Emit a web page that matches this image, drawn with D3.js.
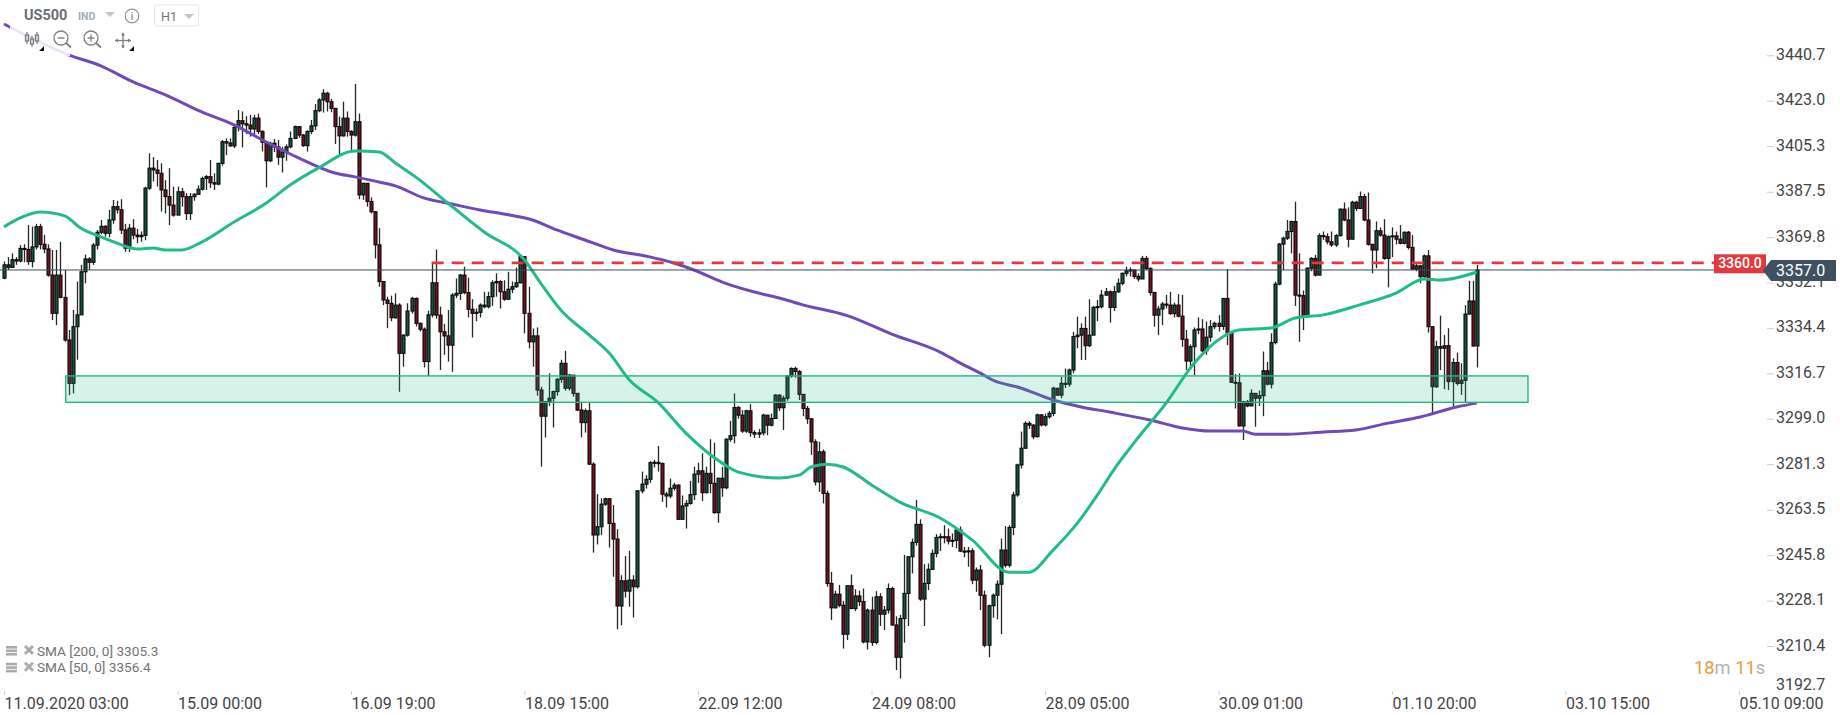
<!DOCTYPE html>
<html>
<head>
<meta charset="utf-8">
<style>
html,body{margin:0;padding:0;background:#fff;}
svg{display:block;font-family:Roboto,sans-serif;}
</style>
<script src="https://cdn.jsdelivr.net/npm/d3@7/dist/d3.min.js"></script>
</head>
<body>
<svg id="chart" width="1840" height="715"></svg>
<script>
const firstOpen = 3353.8;
const closes = [
3359,3358,3361,3360.5,3365.4,3365,3360.3,3366,3373.9,3367,
3365.2,3355,3340.1,3355,3346.3,3329.7,3312.8,3334.9,3339.5,3356.3,
3361.3,3360,3366.7,3371.7,3374,3371.3,3376.5,3381.7,3380.5,3372.6,
3365.5,3373.3,3370.6,3370,3370.5,3388.9,3396.7,3396,3394.7,3388.2,
3385.6,3382.3,3378.4,3387.5,3385.6,3379,3385.6,3386.5,3388.5,3392.7,
3393.4,3391,3390.5,3398.6,3407,3406.5,3405.4,3412.6,3415.2,3414,
3413.5,3412,3416.2,3411,3406.8,3399.6,3406.4,3405,3401,3403,
3405,3408.3,3412.9,3409.6,3405.5,3411,3413.2,3419.1,3423.3,3425.9,
3422.6,3420,3412.9,3409.3,3416.2,3411,3409.6,3414.8,3386.3,3390.8,
3383.7,3379.7,3366.8,3352.5,3345.3,3344,3338.4,3343.3,3324.5,3331.6,
3341,3345.9,3336.2,3333.9,3321.3,3339.5,3352,3339.4,3332.9,3331.3,
3327.7,3347.2,3347.9,3355,3348.2,3341.7,3340.1,3340.5,3343.3,3342.7,
3346.6,3352,3352.5,3348.5,3345.6,3349.5,3350.5,3352,3362.2,3340.1,
3329,3331.3,3310.2,3300,3305.6,3307,3309.6,3314.4,3320.6,3310.9,
3316,3308.9,3302.4,3297.5,3302.1,3281.3,3253.7,3256.9,3265.7,3267.8,
3258.2,3252.1,3226,3235.8,3231.8,3236.1,3233.5,3270.9,3273.5,3275.4,
3281.9,3282,3281.5,3269.6,3268.9,3271.9,3273.1,3259.8,3265,3266,
3269.4,3277.4,3278.7,3270.2,3277.7,3273.8,3262.4,3275.8,3272.1,3291,
3292.4,3303.4,3300.4,3294.2,3302.1,3293.6,3293,3293.5,3300.4,3296.5,
3299.1,3308.2,3303.3,3307,3315.7,3318.6,3317.4,3308.5,3303,3299,
3290,3274.4,3286.1,3269.9,3234.8,3225.3,3230.6,3226.3,3215,3233.9,
3225,3229.9,3227.7,3212,3224.4,3211.8,3229.6,3222.8,3224.4,3232.8,
3218.6,3206,3221.1,3230.9,3245.2,3250.8,3257.8,3228.7,3234.8,3240.3,
3246.5,3252.7,3253,3253,3251.3,3251.6,3255.6,3247.4,3247.2,3247.5,
3236.1,3240,3230.2,3210.7,3226.1,3230.2,3234.5,3247.8,3241.9,3256.6,
3269.3,3281,3287.5,3297.2,3296.5,3292,3300.5,3296.6,3299.8,3301.1,
3310.9,3308.2,3312.8,3312.5,3318,3331,3331.6,3334.2,3327.5,3331.6,
3342.4,3342.7,3347.2,3348.5,3342.4,3348.5,3351.8,3355.7,3356.7,3357,
3354.5,3353.5,3361.5,3357.6,3348.2,3339.4,3341.8,3343.7,
3343.3,3340,3343.3,3339,3330,3321.5,3327.1,3333.6,3334,3325.5,
3330.8,3334.9,3336.2,3335,3345.9,3332.3,3313.2,3313,3296.2,3305.6,
3304,3308.9,3307,3308,3317.7,3312.5,3328.7,3351.5,3367.1,3369.4,3372,
3375.9,3347.2,3347,3339,3357.7,3361.5,3355,3370.4,3370,3368,
3366.8,3370.4,3380.7,3376.5,3369,3383.4,3381,3385.6,3376.5,3367,
3364.8,3372.3,3370.6,3361.5,3370,3370.3,3369,3367.4,3371.7,3365.8,3357.3,
3358.6,3354.4,3362.5,3334.9,3311.5,3327.1,3326.5,3327.5,3313.5,3320.9,
3312.8,3314,3339.8,3344.9,3327.4,3357];
const highs = [
3360.3,3362,3363.5,3362,3366.7,3367,3374.5,3373.9,3375,3375,
3370.7,3367,3364.8,3364.8,3368,3357,3333.6,3341.4,3352.5,3359,
3363,3362,3367.5,3372.6,3376.5,3374.5,3380.4,3384.3,3384,3384.6,
3375,3375,3376.8,3373,3372,3389.5,3402.5,3401,3399.9,3398.6,
3392,3396.7,3389.5,3389.5,3389,3387,3387,3387,3390,3393.4,
3394,3399.9,3394.7,3398.6,3407.7,3408.3,3408.3,3413.5,3419.4,3418.8,
3417,3417.5,3417.5,3418,3411.5,3407,3407,3408,3407.7,3405,
3406,3411,3413.3,3413,3410,3411.5,3415.5,3421.7,3424,3427.5,
3426.5,3423.7,3420,3416.8,3422.6,3418.8,3411.5,3429.5,3418,3391,
3385.6,3385.3,3380,3373.3,3352.5,3346.6,3347,3347.9,3344,3331.9,
3344,3346.5,3346.3,3336.5,3334.6,3341.1,3360,3365,3342.7,3336,
3341.4,3348,3353.7,3355.5,3358.3,3354,3345.6,3342,3344,3348.5,
3348.5,3353,3355.7,3353,3353,3356.3,3352.5,3358,3362.8,3362.2,
3350.5,3334.2,3334.6,3311.5,3306,3316.7,3310,3314.8,3322,3325.5,
3316.5,3316,3309,3305.6,3303,3305.3,3282,3269.6,3268,3268.2,
3268,3265.4,3255.9,3238,3245.5,3247.5,3238,3271,3278.4,3277,
3282.5,3283,3288.4,3282,3270.5,3275.7,3274,3273.5,3269.1,3267.3,
3274.8,3280.3,3281.9,3285.5,3280.3,3291,3289.7,3276,3280.3,3291.4,
3298.2,3308.9,3304,3302.4,3302.5,3304.7,3294.5,3295,3301,3299.8,
3301,3308.6,3308.5,3308,3316,3319,3319.3,3318,3307,3304,
3299,3291,3290,3287,3271,3239.3,3232,3234.2,3228,3233.9,
3238.3,3232.5,3232,3232.8,3225,3229.6,3231.8,3231,3226,3234.8,
3233.5,3222,3222.5,3245.9,3245.2,3252.3,3267.3,3259.8,3242.3,3242.6,
3248,3254,3254.3,3257.5,3256.2,3254.3,3256.6,3257,3249,3249,
3248.5,3241,3242,3232,3226.5,3230.9,3236,3252.3,3257.2,3257.5,
3270.5,3281.5,3294,3298,3298,3297,3301,3300.7,3301,3302,
3311.5,3311,3315.4,3318.6,3318.6,3332.9,3338.8,3336.2,3338.8,3345.6,
3343,3345.3,3349.2,3350,3349,3350.8,3353.7,3356,3358.3,3358,
3356,3355.7,3362.5,3362.5,3358,3348.5,3343,3344.5,
3347.3,3348.5,3344.3,3347.6,3347.3,3333.6,3328,3334.6,3338.5,3337.8,
3336.9,3337.5,3336.9,3339.4,3346,3357.3,3333,3316.4,3316.7,3306,
3306.3,3310.5,3309,3310,3325.2,3321.2,3332.3,3352.5,3367.5,3370,3376.5,
3376.2,3383.6,3363.5,3349,3358,3362,3362.9,3371.3,3372,3371.3,
3372,3371,3381,3383.3,3381.4,3384,3384,3387.6,3386.6,3387.2,
3367.2,3375.9,3373.6,3376.8,3370.5,3373.6,3372,3374.5,3372,3372.2,3370.6,
3359.5,3359,3363,3364.8,3335,3329.4,3339.2,3331.6,3334.3,3322.6,
3324.8,3320.6,3343.3,3352.8,3352.8,3359];
const lows = [
3353.4,3357,3358,3359,3360,3360,3359,3358,3365,3365,
3363.5,3354.4,3337.5,3335.5,3346,3329,3308.2,3308.9,3322,3348,
3351.8,3357,3359,3365,3371,3370,3369.7,3375,3379,3371,
3364.1,3364,3369,3367.5,3368,3368.6,3388.2,3391.5,3389.5,3379.8,
3379,3374.5,3377.8,3381,3381.7,3376.5,3376.5,3384,3386.5,3388,
3388.2,3389,3388.2,3390,3397.7,3401.8,3405,3404.5,3411,3404.8,
3410,3409,3410,3410,3403.2,3389.2,3399,3403,3398,3395,
3399.6,3404.4,3408,3408.5,3405,3403.2,3410,3411.6,3418.5,3418.4,
3418.8,3418.5,3406.1,3401.8,3409,3409,3403.8,3409,3384.6,3384.3,
3381.7,3379,3361.5,3350.5,3343.3,3334.3,3337,3338,3309.5,3319.3,
3331,3340,3335,3333,3319,3315.7,3338.5,3338,3318,3323.9,
3321.3,3317.3,3346,3345.3,3347.5,3338.5,3330.7,3337,3338.5,3342,
3342,3343,3346.6,3342,3345,3347,3348,3350,3351.8,3332.3,
3326.4,3319.3,3308,3280.3,3291.7,3304,3295.6,3308,3313,3310,
3310,3307.6,3302,3291.7,3293.6,3281,3246.8,3250,3253.6,3265,
3248.8,3237.4,3216.9,3218.5,3229.3,3225.7,3221.5,3232.8,3269.9,3271.8,
3274,3280,3278.4,3266.6,3264.4,3268,3271,3259.5,3259.8,3256.2,
3265.5,3267.3,3274,3266.9,3269.9,3270,3262,3258.5,3268.6,3271.5,
3290,3289.4,3299,3293.5,3293.5,3292,3291.5,3291.5,3292.5,3292.6,
3296,3299,3302,3294.6,3306,3315,3315,3306.3,3300,3297,
3284.9,3273,3270.5,3266,3233.5,3220.5,3225,3225.5,3209.4,3212.7,
3224.8,3224,3226,3211.4,3209,3210.4,3211,3218.2,3216.6,3223,
3218.2,3201,3197.7,3211.7,3218.2,3238.7,3249.5,3228,3218.2,3232.2,
3240,3245,3247.4,3250.4,3250,3249,3248.5,3247,3245,3241.3,
3234.5,3231.5,3224.4,3209.9,3206,3221.4,3220.8,3215,3241,3241,
3253.6,3268.6,3279.6,3293,3295,3291,3291.7,3296,3296,3299,
3300,3308,3307,3311,3311.5,3316.7,3326.5,3321.9,3321.9,3327,
3337.5,3337,3342,3347,3336.5,3341,3348,3351,3354.5,3354.5,
3353.5,3352.5,3354,3357,3347,3334.9,3331.6,3335.5,
3342,3339.5,3338.5,3338.5,3327,3318,3318,3316,3332,3325,
3323.9,3329,3334,3333,3333.6,3327.7,3313,3303,3296,3290.7,
3303.5,3304.4,3295.9,3304,3300,3312,3310.8,3328,3351,3357,3368.7,
3363.5,3343,3329,3333.6,3349.2,3356.5,3354.5,3355,3368.7,3367,
3366,3366,3370,3376,3365.8,3369,3380,3381,3376,3366.5,
3355.7,3357.7,3370,3361,3350.2,3362,3367,3367,3367,3365,3357,
3356.5,3351.8,3354,3332.6,3301.1,3311,3318,3310.5,3310.2,3304,
3312,3308.3,3305.3,3340,3327,3319];

// moving averages read at these bar numbers
const sma200Bars = [0,16,24,32,40,49,57,65,73,82,87,93,97,104,111,118,125,131,137,144,151,160,166,171,178,186,193,198,209,220,232,237,242,245,252,260,267,274,284,292,299,307,310,318,327,335,343,351,360,365];
const sma200Vals = [3452.9,3440.9,3436.6,3430.3,3425.3,3418.6,3413.6,3406.9,3400.7,3394.8,3393.3,3391.3,3389.8,3385.1,3382.7,3380.4,3378.5,3376.5,3372.6,3368.7,3364.8,3362.1,3359.7,3357,3352.3,3348.4,3345.7,3343.4,3339.2,3332,3325,3320.7,3316.8,3314.1,3311,3306.3,3303.6,3301.6,3298.5,3295.4,3294.2,3294.2,3293,3293,3293.8,3294.6,3297.3,3299.7,3303.6,3305.1];
const sma50Bars = [0,4,9,15,19,24,28,33,37,40,44,49,57,65,71,78,87,93,97,102,110,119,129,133,138,145,150,155,162,169,178,182,192,197,200,204,208,215,222,232,240,249,254,260,266,271,275,280,288,295,302,306,314,320,327,336,345,352,356,365];
const sma50Vals = [3373.8,3377.3,3379.6,3378.1,3373.4,3369.9,3367.5,3365.2,3365.6,3364.8,3364.8,3367.9,3375.7,3383.1,3390.2,3396.8,3403.4,3403,3398.7,3393.3,3383.1,3371.8,3360.9,3351.9,3341.4,3331.7,3324.6,3314.1,3305.5,3293.4,3281.7,3278.2,3275.9,3277,3280.2,3281.3,3280.2,3273.2,3266.5,3260.3,3251.7,3239.2,3239.2,3247.8,3258.3,3269.3,3279,3289.5,3305.1,3320.7,3330.9,3333.6,3334.4,3338.3,3339.5,3343.4,3348,3353.5,3353.1,3356.2];

const yTicks = [3440.7,3423.0,3405.3,3387.5,3369.8,3352.1,3334.4,3316.7,3299.0,3281.3,3263.5,3245.8,3228.1,3210.4,3192.7];
const xTickBars = [0,43,86,129,172,215,258,301,344,387,430];
const xTickLabels = ["11.09.2020 03:00","15.09 00:00","16.09 19:00","18.09 15:00","22.09 12:00","24.09 08:00","28.09 05:00","30.09 01:00","01.10 20:00","03.10 15:00","05.10 09:00"];

const lastPrice = 3357.0;
const resistance = 3360.0;
const zoneTop = 3315.7, zoneBottom = 3305.4;
const zoneStartBar = 15.3, zoneEndBar = 377.7;
const resistanceStartBar = 106;
const legendRows = ["SMA [200, 0] 3305.3","SMA [50, 0] 3356.4"];

const svg = d3.select("#chart");
const x = d3.scaleLinear().domain([0,430]).range([4,1739]);
const y = d3.scaleLinear().domain([3440.7,3192.7]).range([55.3,691.4]);

// candles
const bars = closes.map((c,i)=>{
  const o = i===0 ? firstOpen : closes[i-1];
  return {i,o,c,h:Math.max(highs[i],o,c),l:Math.min(lows[i],o,c)};
});
const gc = svg.append("g");
gc.selectAll("line").data(bars).join("line")
  .attr("x1",d=>Math.round(x(d.i))+.5).attr("x2",d=>Math.round(x(d.i))+.5)
  .attr("y1",d=>y(d.h)).attr("y2",d=>y(d.l))
  .attr("stroke","#262626").attr("stroke-width",1.3);
gc.selectAll("rect").data(bars).join("rect")
  .attr("x",d=>Math.round(x(d.i))-1)
  .attr("width",3)
  .attr("y",d=>Math.min(y(d.o),y(d.c)))
  .attr("height",d=>Math.max(1,Math.abs(y(d.o)-y(d.c))))
  .attr("fill",d=>d.c>=d.o?"#155543":"#741120")
  .attr("stroke","#0a0a0a").attr("stroke-width",1.1);

// moving averages
const line = d3.line().curve(d3.curveMonotoneX);
svg.append("path")
  .attr("d",line(sma200Bars.map((b,i)=>[x(b),y(sma200Vals[i])])))
  .attr("fill","none").attr("stroke","#7149b8").attr("stroke-width",3);
svg.append("path")
  .attr("d",line(sma50Bars.map((b,i)=>[x(b),y(sma50Vals[i])])))
  .attr("fill","none").attr("stroke","#22bb8c").attr("stroke-width",3);

// last-price line
svg.append("line").attr("x1",0).attr("x2",1714)
  .attr("y1",y(lastPrice)).attr("y2",y(lastPrice))
  .attr("stroke","#3d4f5c").attr("stroke-width",1);

// support zone
svg.append("rect")
  .attr("x",x(zoneStartBar)).attr("width",x(zoneEndBar)-x(zoneStartBar))
  .attr("y",y(zoneTop)).attr("height",y(zoneBottom)-y(zoneTop))
  .attr("fill","#25b98a").attr("fill-opacity",.19)
  .attr("stroke","#25b488").attr("stroke-width",1.4);

// resistance
svg.append("line").attr("x1",x(resistanceStartBar)).attr("x2",1714)
  .attr("y1",y(resistance)+.6).attr("y2",y(resistance)+.6)
  .attr("stroke","#e2383c").attr("stroke-width",2.6).attr("stroke-dasharray","12 8");

// axes
const axisR = d3.axisRight(y).tickValues(yTicks).tickFormat(d3.format(".1f")).tickSize(7).tickPadding(2);
const gy = svg.append("g").attr("transform","translate(1767,0)").call(axisR);
gy.select(".domain").remove();
gy.selectAll("line").attr("stroke","#cfcfcf");
gy.selectAll("text").attr("font-size",16).attr("font-family","Roboto").attr("fill","#444").attr("dy","0.25em");
gy.selectAll(".tick").filter(d=>d===3192.7).each(function(){
  d3.select(this).select("line").remove();
  d3.select(this).select("text").attr("y",-6);
});

const axisB = d3.axisBottom(x).tickValues(xTickBars).tickFormat((d,i)=>xTickLabels[i]).tickSize(4);
const gx = svg.append("g").attr("transform","translate(0,691)").call(axisB);
gx.select(".domain").remove();
gx.selectAll("line").attr("stroke","#cfcfcf");
gx.selectAll("text").attr("font-size",16).attr("font-family","Roboto").attr("fill","#444")
  .attr("text-anchor","start").attr("x",0).attr("y",6.3);

// resistance label
svg.append("rect").attr("x",1714).attr("y",254.3).attr("width",52).attr("height",19).attr("fill","#e0393e");
svg.append("text").attr("x",1740).attr("y",268).attr("text-anchor","middle")
  .attr("font-size",14).attr("font-weight",500).attr("fill","#fff").text(resistance.toFixed(1));

// last-price tag
svg.append("path").attr("d","M1763,270.5L1771,260H1836V281H1771Z").attr("fill","#3f5160");
svg.append("text").attr("x",1776).attr("y",276).attr("font-size",16).attr("fill","#fff").text(lastPrice.toFixed(1));

// veil behind the toolbar
svg.append("rect").attr("x",10).attr("y",0).attr("width",60).attr("height",56).attr("fill","#fff").attr("fill-opacity",.85);

// top toolbar
const tb = svg.append("g");
tb.append("text").attr("x",24).attr("y",20).attr("font-size",14.5).attr("font-weight",700).attr("fill","#6b6f73").text("US500");
tb.append("text").attr("x",78).attr("y",20).attr("font-size",10.5).attr("font-weight",700).attr("fill","#a5adb3").text("IND");
tb.append("path").attr("d","M105,12H115L110,17Z").attr("fill","#c4c8cb");
tb.append("circle").attr("cx",132).attr("cy",16).attr("r",6.8).attr("fill","none").attr("stroke","#8c9195").attr("stroke-width",1.2);
tb.append("text").attr("x",132).attr("y",20).attr("text-anchor","middle").attr("font-size",10.5).attr("fill","#777").text("i");
tb.append("rect").attr("x",154.5).attr("y",5).attr("width",44).attr("height",21).attr("rx",2).attr("fill","#fff").attr("stroke","#e4e6e8");
tb.append("text").attr("x",161).attr("y",21).attr("font-size",12.5).attr("fill","#6e7478").text("H1");
tb.append("path").attr("d","M184,14H194L189,19Z").attr("fill","#c4c8cb");

// icons
const ic = tb.append("g").attr("fill","none").attr("stroke","#7c7f82").attr("stroke-width",1.3);
[27,32,37].forEach((cx,k)=>{
  ic.append("line").attr("x1",cx).attr("x2",cx).attr("y1",k===1?36:32).attr("y2",k===1?47:44);
  ic.append("rect").attr("x",cx-1.5).attr("y",k===1?39:35).attr("width",3).attr("height",k===1?5:6).attr("fill","#ddd");
});
[[61,"m"],[91,"p"]].forEach(([cx,t])=>{
  ic.append("circle").attr("cx",cx).attr("cy",38).attr("r",7);
  ic.append("line").attr("x1",cx+5).attr("y1",43).attr("x2",cx+10).attr("y2",47.5).attr("stroke-width",1.8);
  ic.append("line").attr("x1",cx-3.5).attr("x2",cx+3.5).attr("y1",38).attr("y2",38).attr("stroke","#777");
  if(t==="p") ic.append("line").attr("x1",cx).attr("x2",cx).attr("y1",34.5).attr("y2",41.5);
});
ic.append("line").attr("x1",115).attr("x2",131).attr("y1",40.5).attr("y2",40.5);
ic.append("line").attr("x1",123).attr("x2",123).attr("y1",33).attr("y2",48);
tb.append("path").attr("d","M115,40.5l3,-2v4ZM131,40.5l-3,-2v4ZM123,32.5l-2,3h4ZM123,48.5l-2,-3h4Z").attr("fill","#7c7f82");
tb.append("path").attr("d","M39,51H44V46ZM129,51H134V46Z").attr("fill","#111");

// indicator legend
legendRows.forEach((t,k)=>{
  const yy = 651 + k*16.8;
  const g = svg.append("g");
  [-5,-1.5,2].forEach(dy=>g.append("rect").attr("x",6).attr("y",yy+dy).attr("width",11).attr("height",2.6).attr("fill","#a9acae"));
  g.append("path").attr("d",`M25,${yy-5}L33,${yy+3}M33,${yy-5}L25,${yy+3}`).attr("stroke","#a9acae").attr("stroke-width",3);
  g.append("text").attr("x",37).attr("y",yy+4.5).attr("font-size",13.6).attr("fill","#6f7275").text(t);
});

// countdown
const cd = svg.append("text").attr("x",1694).attr("y",674).attr("font-size",18.3);
[["18","#f0993a"],["m ","#aeb2b5"],["11","#f0993a"],["s","#aeb2b5"]].forEach(([t,c])=>cd.append("tspan").attr("fill",c).attr("xml:space","preserve").text(t));
</script>
</body>
</html>
